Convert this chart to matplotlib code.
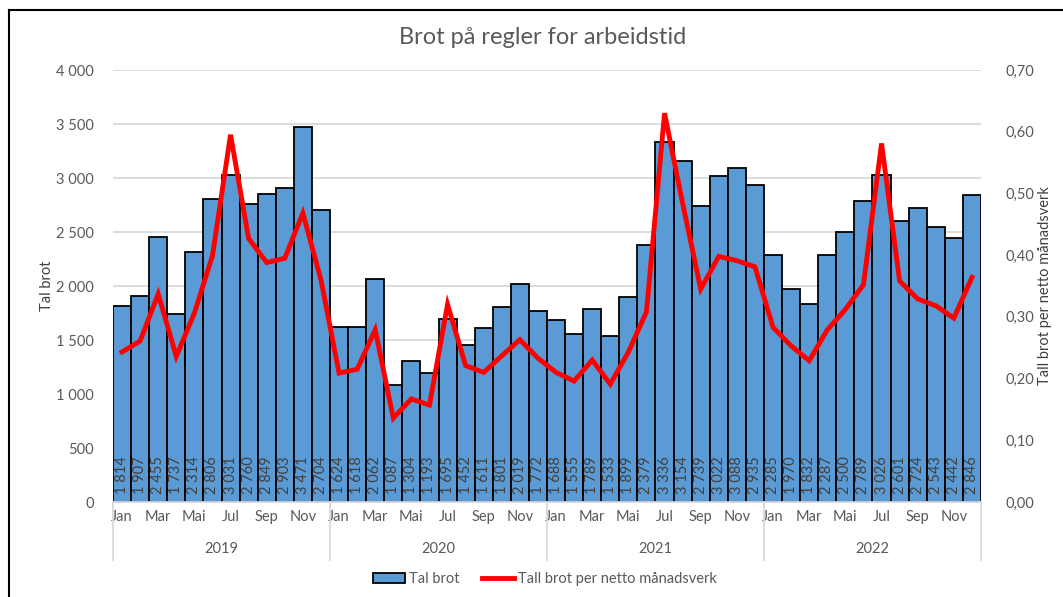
import matplotlib
matplotlib.use("Agg")
import matplotlib.pyplot as plt
import matplotlib.transforms as mtransforms
from matplotlib.patches import Patch
from matplotlib.lines import Line2D
import numpy as np

plt.rcParams['font.family'] = ['Lato', 'DejaVu Sans']

years = ['2019', '2020', '2021', '2022']
months = ['Jan', 'Feb', 'Mar', 'Apr', 'Mai', 'Jun', 'Jul', 'Aug', 'Sep', 'Okt', 'Nov', 'Des']

tal_brot = [1814, 1907, 2455, 1737, 2314, 2806, 3031, 2760, 2849, 2903, 3471, 2704,
            1624, 1618, 2062, 1087, 1304, 1193, 1695, 1452, 1611, 1801, 2019, 1772,
            1688, 1555, 1789, 1533, 1899, 2379, 3336, 3154, 2739, 3022, 3088, 2935,
            2285, 1970, 1832, 2287, 2500, 2789, 3026, 2601, 2724, 2543, 2442, 2846]

per_manadsverk = [0.243, 0.261, 0.337, 0.236, 0.306, 0.399, 0.595, 0.427, 0.388, 0.395, 0.468, 0.360,
                  0.209, 0.215, 0.279, 0.136, 0.167, 0.157, 0.320, 0.221, 0.210, 0.237, 0.263, 0.233,
                  0.210, 0.196, 0.230, 0.191, 0.243, 0.308, 0.630, 0.484, 0.345, 0.398, 0.391, 0.381,
                  0.283, 0.253, 0.229, 0.279, 0.312, 0.352, 0.581, 0.358, 0.329, 0.318, 0.298, 0.364]

left_ticks = [0, 500, 1000, 1500, 2000, 2500, 3000, 3500, 4000]
right_ticks = [0.0, 0.1, 0.2, 0.3, 0.4, 0.5, 0.6, 0.7]

gray = '#595959'
narrow = ['Lato', 'DejaVu Sans']

fig = plt.figure(figsize=(10.63, 5.97), dpi=100)
ax = fig.add_axes([113/1063, 95/597, 868/1063, 432/597])
ax2 = ax.twinx()

n = len(tal_brot)
x = np.arange(n)
ax.bar(x, tal_brot, width=1.0, color='#5B9BD5', edgecolor='black', linewidth=1.3, zorder=2)
ax.set_xlim(-0.5, n - 0.5)
ax.set_ylim(0, 4000)
ax.set_yticks(left_ticks)
ax.set_yticklabels([f"{v:,}".replace(',', ' ') for v in left_ticks], color=gray, fontsize=10.5)
ax.yaxis.grid(True, color='#D9D9D9', linewidth=1.3, zorder=0)
ax.set_axisbelow(True)
ax.tick_params(axis='y', length=0, pad=14)

for xi, v in zip(x, tal_brot):
    ax.annotate(f"{v:,}".replace(',', ' '), (xi, 0), xytext=(0, 6), textcoords='offset points',
                rotation=90, ha='center', va='bottom', fontsize=10.5, color='#404040',
                family=narrow, zorder=3)

# month labels (every other month)
lab_pos = [i for i in range(n) if i % 2 == 0]
ax.set_xticks(lab_pos)
ax.set_xticklabels([months[i % 12] for i in lab_pos], color=gray, fontsize=10.5, family=narrow)
ax.tick_params(axis='x', length=0, pad=6)

for s in ['top', 'left', 'right']:
    ax.spines[s].set_visible(False)
    ax2.spines[s].set_visible(False)
ax.spines['bottom'].set_color('#D9D9D9')
ax.spines['bottom'].set_linewidth(1.3)
ax2.spines['bottom'].set_visible(False)

trans = mtransforms.blended_transform_factory(ax.transData, ax.transAxes)
for b in [-0.5, 11.5, 23.5, 35.5, 47.5]:
    ax.plot([b, b], [0, -0.134], transform=trans, color='#D9D9D9', linewidth=1.3, clip_on=False)
for i, yr in enumerate(years):
    ax.text(i * 12 + 5.5, -0.108, yr, transform=trans, ha='center', va='center',
            color=gray, fontsize=10.5, family=narrow)

ax2.plot(x, per_manadsverk, color='#FF0000', linewidth=3.5, zorder=4, solid_joinstyle='miter')
ax2.set_ylim(0, 0.7)
ax2.set_yticks(right_ticks)
ax2.set_yticklabels([f"{v:.2f}".replace('.', ',') for v in right_ticks], color=gray, fontsize=10.5)
ax2.tick_params(axis='y', length=0, pad=18)

ax.set_ylabel('Tal brot', color='#404040', fontsize=10.5, family=narrow, labelpad=1)
ax2.set_ylabel('Tall brot per netto månadsverk', color='#404040', fontsize=10.5, family=narrow, labelpad=2)

fig.text(543/1063, 1 - 38/597, 'Brot på regler for arbeidstid', ha='center', va='center',
         fontsize=17, color=gray)

handles = [Patch(facecolor='#5B9BD5', edgecolor='black', linewidth=1.3),
           Line2D([0], [0], color='#FF0000', linewidth=3.5)]
fig.legend(handles, ['Tal brot', 'Tall brot per netto månadsverk'], loc='center',
           bbox_to_anchor=(545/1063, 1 - 579/597), ncol=2, frameon=False,
           prop={'family': narrow, 'size': 10.5}, labelcolor=gray,
           handlelength=2.2, handletextpad=0.3, columnspacing=1.5)

# chart frame
fig.add_artist(Line2D([9/1063, 9/1063], [0, 1 - 10/597], transform=fig.transFigure, color='black', linewidth=1.5))
fig.add_artist(Line2D([9/1063, 1], [1 - 10/597, 1 - 10/597], transform=fig.transFigure, color='black', linewidth=1.5))

fig.savefig('out.png', dpi=100)
